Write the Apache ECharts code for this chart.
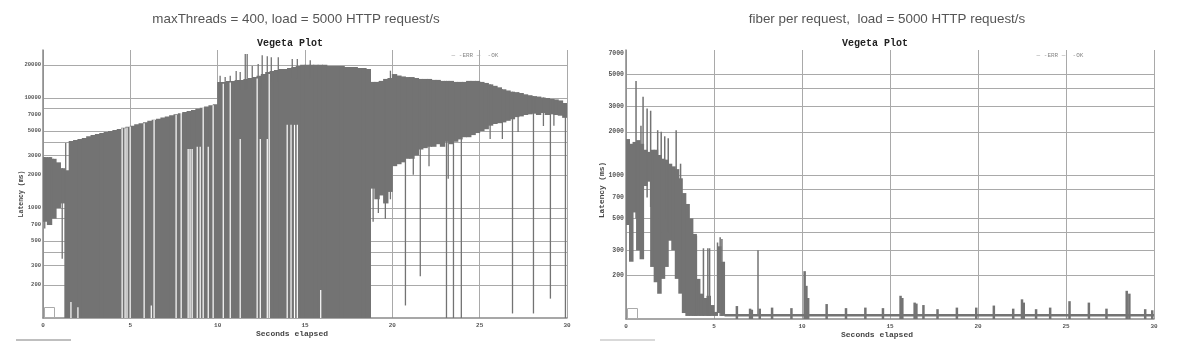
<!DOCTYPE html>
<html><head><meta charset="utf-8">
<script src="https://cdn.jsdelivr.net/npm/echarts@6/dist/echarts.min.js"></script>
<style>html,body{margin:0;padding:0;background:#fff}#c{width:1178px;height:361px}</style>
</head><body><div id="c"></div>
<script>
// ---------- data (latency in ms, time in seconds) ----------
const xTicks = [0, 5, 10, 15, 20, 25, 30];
const leftYLabels = [200, 300, 500, 700, 1000, 2000, 3000, 5000, 7000, 10000, 20000];
const leftYGrid = [200, 300, 400, 500, 800, 1000, 2000, 3000, 4000, 5000, 8000, 10000, 20000];
const rightYLabels = [200, 300, 500, 700, 1000, 2000, 3000, 5000, 7000];
const rightYGrid = [200, 300, 400, 500, 800, 1000, 2000, 3000, 4000, 5000];

// left plot: 0.25 s bins, upper and lower edge of the grey mass
const leftBin = 0.25;
const leftHi = [
  2900, 2900, 2800, 2600, 2300, 2200, 4070, 4150, 4240, 4330,
  4500, 4600, 4700, 4810, 4900, 5000, 5120, 5230, 5360, 5480,
  5600, 5770, 5900, 6030, 6200, 6330, 6460, 6640, 6780, 6950,
  7100, 7260, 7450, 7620, 7790, 7990, 8170, 8350, 8580, 8770,
  13970, 13970, 14300, 14300, 14600, 14600, 14900, 15200, 15500, 15900,
  16500, 17200, 17600, 18000, 18300, 18300, 18700, 19100, 19500, 20000,
  20000, 20000, 20000, 20000, 20000, 19500, 19500, 19500, 19500, 19100,
  19100, 19100, 18700, 18700, 18300, 14000, 14000, 14300, 14900, 15200,
  16500, 16000, 15700, 15500, 15500, 15200, 14900, 14900, 14900, 14600,
  14600, 14300, 14300, 14300, 14000, 14000, 14000, 14300, 14300, 14300,
  14000, 13700, 13300, 12900, 12500, 12000, 11700, 11400, 11300, 11100,
  10800, 10600, 10400, 10300, 10100, 10000, 9800, 9700, 9500, 9000
];
const leftLo = [
  750, 700, 800, 1000, 1100, 100, 100, 100, 100, 100,
  100, 100, 100, 100, 100, 100, 100, 100, 100, 100,
  100, 100, 100, 100, 100, 100, 100, 100, 100, 100,
  100, 100, 100, 100, 100, 100, 100, 100, 100, 100,
  100, 100, 100, 100, 100, 100, 100, 100, 100, 100,
  100, 100, 100, 100, 100, 100, 100, 100, 100, 100,
  100, 100, 100, 100, 100, 100, 100, 100, 100, 100,
  100, 100, 100, 100, 100, 1500, 1200, 1300, 1100, 1400,
  2400, 2500, 2600, 2800, 2800, 3000, 3400, 3500, 3600, 3600,
  3800, 3600, 4000, 3800, 4000, 4200, 4400, 4400, 4600, 4800,
  5000, 5200, 5600, 5800, 5900, 6000, 6200, 6400, 6700, 6800,
  7000, 7100, 7200, 7000, 7300, 7000, 7100, 7000, 6900, 6600
];
// isolated grey strokes [time, low, high]
const leftSpikes = [
  [0.1, 650, 2900], [0.4, 720, 2900], [0.6, 850, 2800], [1.1, 345, 2300], [1.3, 500, 3900],
  [10.14, 10000, 15900], [10.43, 10000, 15500], [10.72, 10000, 15900], [11.06, 12000, 17600],
  [11.29, 12000, 17200], [11.58, 12000, 25100], [11.69, 12000, 25100], [11.98, 12000, 19500],
  [12.32, 12000, 20400], [12.55, 12000, 24500], [12.84, 14000, 24000], [13.07, 14000, 23500],
  [13.47, 14000, 23500], [14.27, 15000, 22600], [14.56, 15000, 22600], [15.3, 15000, 22000],
  [18.9, 750, 14000], [19.2, 900, 14000], [19.6, 800, 14500], [19.89, 1200, 17700],
  [20.75, 130, 15000], [21.2, 2000, 15000], [21.6, 240, 14000], [22.1, 2400, 14800],
  [23.1, 100, 14300], [23.2, 1840, 14300], [23.5, 100, 14000], [23.95, 100, 14000],
  [25.6, 4240, 13300], [26.3, 4240, 12000], [26.88, 110, 11400], [27.2, 4900, 11200],
  [28.08, 110, 10400], [28.65, 5560, 10100], [29.05, 150, 9800], [29.25, 5600, 9700],
  [29.91, 100, 9000]
];
// white breaks in the grey mass [time, low, high]
const leftGaps = [
  [1.6, 100, 140], [2.0, 100, 125], [4.53, 100, 5300], [4.7, 100, 5300], [4.81, 100, 5400],
  [4.99, 100, 5500], [5.79, 100, 5900], [6.36, 100, 6300], [6.2, 100, 130], [7.62, 100, 7000],
  [7.91, 100, 7300], [8.31, 100, 3440], [8.42, 100, 3440], [8.54, 100, 3440], [8.83, 100, 3600],
  [9.0, 100, 3600], [9.17, 100, 8100], [9.46, 100, 3600], [9.74, 100, 8600],
  [10.32, 100, 13500], [10.72, 100, 13800], [11.29, 100, 4240], [12.26, 100, 15000],
  [12.44, 100, 4240], [12.84, 100, 4240], [12.95, 100, 16500], [13.98, 100, 5700],
  [14.2, 100, 5700], [14.4, 100, 5700], [14.56, 100, 5700], [15.9, 100, 180]
];

// right plot: 0.2 s bins for the first seconds
const rightBin = 0.2;
const rightHi = [
  1780, 1650, 1700, 1750, 1650, 1500, 1450, 1500, 1500, 1380,
  1300, 1280, 1200, 1150, 1100, 950, 750, 630, 500, 390,
  190, 150, 140, 145, 125, 112, 320, 250
];
const rightLo = [
  450, 250, 550, 300, 260, 840, 900, 230, 180, 150,
  190, 230, 350, 300, 190, 150, 110, 105, 105, 105,
  105, 105, 105, 105, 105, 105, 110, 105
];
const rightSpikes = [
  [0.57, 500, 4500], [0.85, 600, 2200], [0.97, 400, 3500], [1.2, 700, 2900], [1.4, 600, 2800],
  [1.8, 500, 2050], [2.0, 400, 2000], [2.2, 500, 1860], [2.4, 400, 1800], [2.85, 300, 2050],
  [3.1, 300, 1200], [3.9, 105, 380], [4.0, 105, 380], [4.4, 105, 310], [4.65, 105, 310],
  [4.75, 105, 310], [5.2, 110, 340], [5.35, 105, 370], [5.45, 105, 360], [7.5, 105, 300]
];
const rightBaseTimes = [5.6, 30];
const rightBaseValues = [106, 106];
const rightBumps = [
  [6.3, 123], [7.05, 118], [7.15, 116], [7.6, 118], [8.3, 120], [9.4, 119], [10.15, 215],
  [10.25, 170], [10.35, 140], [11.4, 127], [12.5, 119], [13.6, 120], [14.6, 119], [15.6, 145],
  [15.7, 140], [16.4, 130], [16.5, 128], [16.9, 125], [17.7, 117], [18.8, 120], [19.9, 120],
  [20.9, 124], [22.0, 118], [22.5, 137], [22.6, 130], [23.3, 117], [24.1, 120], [25.2, 133],
  [26.3, 130], [27.3, 118], [28.45, 157], [28.6, 150], [29.5, 117], [29.9, 115]
];

// ---------- chart ----------
const GREY = '#737373';
const MONO = '"Liberation Mono", "DejaVu Sans Mono", monospace';

function rectItem(color, minW) {
  return function (params, api) {
    const t = api.value(0), lo = api.value(1), hi = api.value(2), w = api.value(3);
    const a = api.coord([t, hi]);
    const b = api.coord([t + w, lo]);
    let x, width;
    if (w > 0) { x = a[0] - 0.5; width = b[0] - a[0] + 1; }
    else { width = minW; x = a[0] - width / 2; }
    return { type: 'rect', shape: { x: x, y: a[1], width: width, height: b[1] - a[1] },
      style: { fill: color } };
  };
}

function xAxis(gi) {
  return {
    type: 'value', gridIndex: gi, min: 0, max: 30, interval: 5,
    axisLine: { show: true, lineStyle: { color: '#8a8a8a', width: 1.5 } },
    axisTick: { show: false },
    axisLabel: { fontFamily: MONO, fontSize: 6, color: '#555', margin: 4, fontWeight: 'bold' },
    splitLine: { show: true, lineStyle: { color: '#a9a9a9', width: 1 } },
    name: 'Seconds elapsed', nameLocation: 'middle', nameGap: 12, nameMoveOverlap: false,
    nameTextStyle: { fontFamily: MONO, fontSize: 8, fontWeight: 'bold', color: '#444', padding: [0, 26, 0, 0] }
  };
}
function yAxis(gi, max, labels, grid, gap, shift, lblSize, nameSize) {
  return {
    type: 'log', gridIndex: gi, min: 100, max: max, logBase: 10,
    axisLine: { show: true, lineStyle: { color: '#8a8a8a', width: 1.5 } },
    axisTick: { show: false, customValues: grid },
    axisLabel: { customValues: labels, formatter: v => String(v), fontFamily: MONO, fontSize: lblSize, color: '#555', margin: 2, fontWeight: 'bold' },
    splitLine: { show: true, lineStyle: { color: '#a9a9a9', width: 1 } },
    name: 'Latency (ms)', nameLocation: 'middle', nameGap: gap, nameRotate: 90, nameMoveOverlap: false,
    nameTextStyle: { fontFamily: MONO, fontSize: nameSize, fontWeight: 'bold', color: '#444', padding: [0, shift, 0, 0] }
  };
}

const chart = echarts.init(document.getElementById('c'), null, { renderer: 'canvas' });
chart.setOption({
  animation: false,
  backgroundColor: '#fff',
  grid: [
    { left: 43, top: 50, width: 524, height: 268 },
    { left: 626, top: 50, width: 528, height: 269 }
  ],
  xAxis: [xAxis(0), xAxis(1)],
  yAxis: [yAxis(0, 27300, leftYLabels, leftYGrid, 18, 20, 5.5, 6.5), yAxis(1, 7400, rightYLabels, rightYGrid, 19.5, 11, 6.5, 7.8)],
  series: [
    { type: 'custom', xAxisIndex: 0, yAxisIndex: 0, clip: true, renderItem: rectItem(GREY, 1),
      encode: { x: 0, y: [1, 2] },
      data: leftHi.map((h, i) => [i * leftBin, leftLo[i], h, leftBin]) },
    { type: 'custom', xAxisIndex: 0, yAxisIndex: 0, clip: true, renderItem: rectItem(GREY, 1.3),
      encode: { x: 0, y: [1, 2] },
      data: leftSpikes.map(s => [s[0], s[1], s[2], 0]) },
    { type: 'custom', xAxisIndex: 0, yAxisIndex: 0, clip: true, renderItem: rectItem('#ffffff', 1.2),
      encode: { x: 0, y: [1, 2] },
      data: leftGaps.map(s => [s[0], s[1], s[2], 0]) },
    { type: 'custom', xAxisIndex: 1, yAxisIndex: 1, clip: true, renderItem: rectItem(GREY, 1),
      encode: { x: 0, y: [1, 2] },
      data: rightHi.map((h, i) => [i * rightBin, rightLo[i], h, rightBin]) },
    { type: 'custom', xAxisIndex: 1, yAxisIndex: 1, clip: true, renderItem: rectItem(GREY, 1.5),
      encode: { x: 0, y: [1, 2] },
      data: rightSpikes.map(s => [s[0], s[1], s[2], 0]) },
    { type: 'custom', xAxisIndex: 1, yAxisIndex: 1, clip: true, renderItem: rectItem(GREY, 2.5),
      encode: { x: 0, y: [1, 2] },
      data: rightBumps.map(s => [s[0], 100, s[1], 0]) },
    { type: 'line', xAxisIndex: 1, yAxisIndex: 1, symbol: 'none',
      lineStyle: { color: GREY, width: 2.5 },
      data: rightBaseTimes.map((t, i) => [t, rightBaseValues[i]]) }
  ],
  graphic: [
    { type: 'text', x: 296, y: 19, style: { text: 'maxThreads = 400, load = 5000 HTTP request/s', textAlign: 'center', textVerticalAlign: 'middle', fill: '#555', font: '13.4px "Liberation Sans", Arial, sans-serif' } },
    { type: 'text', x: 887, y: 19, style: { text: 'fiber per request,  load = 5000 HTTP request/s', textAlign: 'center', textVerticalAlign: 'middle', fill: '#555', font: '13.4px "Liberation Sans", Arial, sans-serif' } },
    { type: 'text', x: 290, y: 43, style: { text: 'Vegeta Plot', textAlign: 'center', textVerticalAlign: 'middle', fill: '#222', font: 'bold 10px ' + MONO } },
    { type: 'text', x: 875, y: 43, style: { text: 'Vegeta Plot', textAlign: 'center', textVerticalAlign: 'middle', fill: '#222', font: 'bold 10px ' + MONO } },
    { type: 'text', x: 475, y: 55, style: { text: '— -ERR —  -OK', textAlign: 'center', textVerticalAlign: 'middle', fill: '#888', font: '6px ' + MONO } },
    { type: 'text', x: 1060, y: 55, style: { text: '— -ERR —  -OK', textAlign: 'center', textVerticalAlign: 'middle', fill: '#888', font: '6px ' + MONO } },
    { type: 'line', shape: { x1: 16, y1: 340, x2: 71, y2: 340 }, style: { stroke: '#aaa', lineWidth: 1.5 } },
    { type: 'line', shape: { x1: 600, y1: 340, x2: 655, y2: 340 }, style: { stroke: '#ccc', lineWidth: 1.5 } },
    { type: 'rect', shape: { x: 44.5, y: 307.5, width: 10, height: 10 }, style: { fill: 'none', stroke: '#aaa', lineWidth: 1 }, z: 100 },
    { type: 'rect', shape: { x: 627.5, y: 308.5, width: 10, height: 10 }, style: { fill: 'none', stroke: '#aaa', lineWidth: 1 }, z: 100 }
  ]
});
</script>
</body></html>
